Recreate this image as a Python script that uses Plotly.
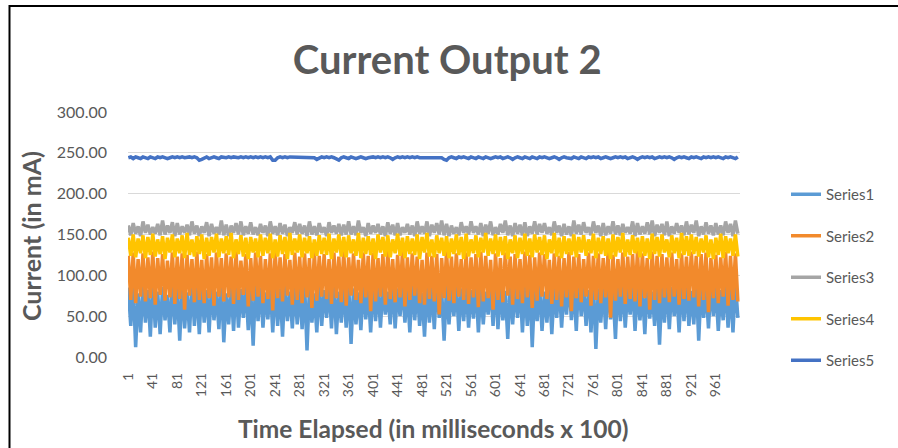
import plotly.graph_objects as go

# sample index (every 4th step of the 1..1000 category axis)
sample_index = list(range(1, 1001, 4))

series1 = [
    85, 38, 90, 12, 78, 30, 88, 42, 82, 25,
    92, 36, 80, 28, 86, 45, 76, 30, 90, 40,
    84, 20, 88, 35, 79, 30, 91, 38, 85, 28,
    90, 42, 82, 30, 87, 45, 80, 34, 93, 18,
    78, 40, 86, 32, 90, 36, 83, 48, 88, 33,
    81, 14, 92, 44, 85, 36, 79, 46, 87, 30,
    90, 38, 84, 25, 88, 44, 80, 35, 86, 40,
    83, 34, 91, 8, 85, 42, 78, 30, 89, 38,
    82, 48, 87, 35, 92, 28, 80, 42, 86, 36,
    90, 16, 84, 40, 79, 33, 88, 46, 83, 30,
    91, 44, 85, 36, 87, 52, 80, 40, 93, 35,
    84, 50, 89, 42, 82, 30, 90, 45, 86, 38,
    79, 25, 88, 42, 85, 34, 92, 48, 81, 20,
    87, 40, 83, 50, 90, 32, 84, 44, 88, 36,
    82, 47, 91, 30, 86, 40, 80, 52, 89, 38,
    93, 34, 85, 45, 81, 22, 88, 40, 84, 48,
    90, 30, 86, 38, 92, 12, 83, 44, 87, 32,
    80, 42, 89, 28, 85, 48, 91, 36, 84, 52,
    95, 45, 88, 32, 100, 50, 86, 38, 82, 30,
    90, 10, 84, 42, 88, 34, 92, 46, 81, 22,
    96, 44, 87, 36, 83, 52, 90, 32, 86, 45,
    84, 28, 91, 47, 80, 38, 88, 15, 85, 42,
    92, 34, 86, 50, 83, 30, 90, 44, 87, 38,
    81, 40, 94, 20, 88, 48, 84, 35, 90, 50,
    86, 32, 82, 45, 89, 36, 85, 30, 91, 48,
]

series2 = [
    124, 70, 128, 66, 120, 74, 127, 68, 122, 72,
    129, 64, 121, 76, 126, 69, 118, 73, 128, 65,
    123, 71, 127, 58, 125, 75, 120, 67, 129, 70,
    119, 66, 126, 72, 122, 63, 128, 74, 121, 68,
    127, 73, 123, 65, 130, 70, 118, 76, 126, 62,
    121, 69, 128, 74, 124, 66, 120, 71, 127, 57,
    129, 72, 122, 68, 126, 75, 119, 64, 128, 70,
    123, 66, 127, 73, 121, 60, 129, 69, 124, 74,
    126, 71, 120, 65, 128, 72, 123, 67, 130, 63,
    122, 75, 127, 70, 119, 66, 128, 73, 124, 56,
    128, 68, 121, 74, 126, 64, 130, 71, 120, 67,
    125, 73, 129, 62, 122, 70, 127, 75, 123, 66,
    119, 64, 128, 71, 124, 68, 126, 52, 121, 72,
    130, 69, 123, 66, 127, 74, 120, 70, 128, 65,
    122, 73, 126, 61, 129, 68, 124, 72, 119, 58,
    127, 70, 121, 67, 128, 75, 123, 64, 126, 71,
    120, 66, 129, 73, 125, 60, 122, 69, 128, 74,
    126, 71, 119, 65, 127, 70, 124, 62, 121, 73,
    129, 56, 123, 72, 126, 67, 120, 74, 128, 63,
    124, 70, 127, 66, 121, 73, 129, 48, 125, 69,
    120, 74, 128, 65, 123, 71, 126, 68, 130, 62,
    127, 72, 121, 58, 129, 70, 124, 66, 126, 73,
    122, 67, 128, 74, 120, 64, 127, 71, 123, 69,
    129, 73, 124, 62, 126, 70, 128, 55, 121, 72,
    125, 66, 122, 74, 129, 63, 124, 70, 127, 68,
]

series3 = [
    161, 149, 164, 151, 160, 148, 166, 152, 162, 150,
    159, 151, 163, 149, 167, 150, 161, 152, 165, 148,
    164, 150, 160, 152, 162, 149, 166, 151, 161, 148,
    160, 152, 165, 148, 163, 151, 159, 150, 167, 149,
    162, 148, 161, 152, 164, 150, 166, 149, 160, 151,
    165, 150, 159, 149, 163, 152, 161, 148, 166, 151,
    160, 149, 164, 151, 162, 148, 159, 152, 165, 150,
    163, 151, 161, 148, 166, 150, 160, 149, 164, 152,
    159, 148, 165, 152, 161, 151, 163, 149, 162, 150,
    166, 150, 160, 149, 167, 152, 159, 148, 164, 151,
    161, 152, 163, 150, 160, 148, 165, 151, 162, 149,
    164, 149, 159, 152, 163, 150, 161, 148, 166, 151,
    160, 151, 166, 148, 162, 152, 164, 150, 167, 149,
    163, 148, 161, 151, 159, 149, 165, 152, 160, 150,
    166, 152, 160, 150, 164, 148, 162, 151, 166, 149,
    159, 150, 163, 152, 167, 149, 161, 148, 164, 151,
    162, 149, 165, 148, 160, 151, 166, 150, 163, 152,
    164, 151, 159, 149, 166, 152, 161, 148, 163, 150,
    160, 148, 167, 151, 162, 150, 165, 152, 159, 149,
    166, 152, 161, 148, 164, 149, 160, 151, 166, 150,
    161, 149, 163, 152, 159, 151, 166, 148, 164, 150,
    160, 151, 165, 150, 167, 148, 162, 152, 163, 149,
    166, 148, 160, 151, 164, 152, 161, 149, 166, 150,
    162, 152, 167, 148, 160, 150, 165, 151, 161, 149,
    164, 150, 161, 149, 166, 152, 163, 148, 167, 151,
]

series4 = [
    146, 124, 150, 122, 145, 127, 149, 121, 147, 125,
    151, 123, 144, 126, 148, 120, 146, 128, 150, 122,
    145, 127, 149, 121, 152, 125, 144, 123, 148, 126,
    150, 120, 146, 124, 147, 128, 151, 122, 145, 127,
    148, 125, 152, 121, 144, 126, 149, 123, 146, 120,
    147, 128, 145, 122, 150, 124, 146, 127, 151, 121,
    144, 123, 149, 126, 147, 120, 152, 125, 145, 128,
    150, 122, 146, 127, 148, 121, 144, 124, 149, 126,
    146, 125, 151, 120, 145, 128, 150, 123, 147, 122,
    149, 127, 144, 124, 152, 121, 146, 126, 148, 125,
    145, 120, 150, 128, 147, 123, 149, 122, 144, 127,
    151, 124, 146, 121, 148, 126, 145, 125, 150, 120,
    147, 128, 152, 123, 144, 122, 149, 127, 146, 124,
    148, 121, 145, 126, 150, 125, 147, 120, 151, 123,
    144, 127, 149, 122, 146, 128, 152, 124, 145, 126,
    150, 123, 147, 125, 148, 120, 144, 127, 149, 121,
    146, 126, 151, 124, 145, 122, 150, 128, 147, 125,
    149, 120, 144, 127, 152, 123, 146, 121, 148, 126,
    145, 125, 150, 122, 147, 128, 149, 124, 144, 127,
    151, 121, 146, 126, 148, 124, 145, 120, 150, 123,
    147, 128, 152, 123, 144, 125, 149, 127, 146, 122,
    148, 124, 145, 120, 151, 126, 147, 123, 150, 128,
    144, 122, 149, 127, 146, 121, 152, 125, 148, 124,
    150, 126, 147, 123, 145, 128, 149, 122, 144, 120,
    146, 125, 151, 121, 148, 127, 145, 124, 150, 123,
]

series5 = [
    244, 245, 243, 245, 244, 243, 245, 244, 243, 245,
    244, 243, 245, 244, 245, 244, 243, 244, 245, 244,
    245, 244, 245, 244, 245, 245, 244, 245, 244, 241,
    242, 244, 245, 243, 244, 245, 244, 243, 245, 244,
    244, 245, 244, 245, 244, 244, 245, 244, 245, 244,
    245, 244, 245, 244, 245, 244, 245, 244, 245, 241,
    241, 244, 245, 244, 245, 244, 245, 245, 244, 245,
    244, 245, 244, 245, 244, 245, 244, 242, 244, 245,
    244, 245, 244, 245, 244, 242, 241, 244, 245, 244,
    243, 245, 244, 243, 244, 245, 244, 243, 244, 245,
    245, 244, 245, 244, 245, 244, 245, 244, 242, 244,
    245, 244, 245, 244, 245, 244, 245, 244, 245, 244,
    244, 245, 244, 245, 244, 245, 244, 245, 244, 242,
    241, 244, 245, 244, 243, 245, 244, 245, 244, 243,
    245, 244, 243, 245, 244, 243, 245, 244, 243, 244,
    245, 244, 245, 243, 244, 245, 244, 242, 244, 245,
    244, 243, 245, 244, 243, 245, 244, 243, 245, 244,
    245, 244, 243, 244, 245, 244, 242, 244, 245, 244,
    244, 243, 245, 244, 243, 245, 244, 243, 245, 244,
    245, 244, 245, 243, 244, 245, 244, 243, 244, 245,
    244, 245, 244, 245, 243, 244, 245, 244, 242, 244,
    245, 244, 245, 244, 245, 243, 244, 245, 244, 245,
    244, 245, 244, 242, 244, 245, 244, 245, 244, 243,
    245, 244, 245, 244, 243, 245, 244, 245, 244, 245,
    244, 245, 244, 243, 245, 244, 245, 244, 243, 245,
]

series_names = ["Series1", "Series2", "Series3", "Series4", "Series5"]
series_values = [series1, series2, series3, series4, series5]
colors = ["#5B9BD5", "#F28A2C", "#A5A5A5", "#FFC400", "#4472C4"]

tick_vals = list(range(1, 1000, 40))
tick_text = [str(v) for v in tick_vals]
y_ticks = [0, 50, 100, 150, 200, 250, 300]

FONT = "Lato"
GREY = "#595959"

fig = go.Figure()
for name, vals, col in zip(series_names, series_values, colors):
    fig.add_trace(go.Scatter(
        x=sample_index, y=vals, name=name, mode="lines",
        line=dict(color=col, width=3.5), legendgroup=name,
    ))

L, R, T, B = 128, 158, 112, 91
W, H = 898, 448
pw, ph = W - L - R, H - T - B

def px(x):
    return (x - L) / pw

def py(y):
    return (H - B - y) / ph

fig.update_layout(
    width=W, height=H,
    margin=dict(l=L, r=R, t=T, b=B),
    paper_bgcolor="white", plot_bgcolor="white",
    font=dict(family=FONT, color=GREY),
    title=dict(text="<b>Current Output 2</b>", x=0.498, xanchor="center",
               y=1 - 60 / H, yanchor="middle", yref="container",
               font=dict(family=FONT, size=40, color=GREY)),
    showlegend=True,
    legend=dict(x=px(786), xanchor="left", y=py(178), yanchor="top",
                font=dict(family=FONT, size=15, color=GREY),
                tracegroupgap=19, bgcolor="rgba(0,0,0,0)"),
    xaxis=dict(range=[0.5, 1000.5], tickmode="array", tickvals=tick_vals,
               ticktext=tick_text, tickangle=-90, showgrid=False,
               zeroline=False, showline=False, ticks="",
               tickfont=dict(family=FONT, size=14, color=GREY),
               ticklabelstandoff=12),
    yaxis=dict(range=[0, 300], tickmode="array", tickvals=y_ticks,
               ticktext=[f"{v:.2f}" for v in y_ticks], showgrid=True,
               gridcolor="#D9D9D9", gridwidth=1, zeroline=False,
               showline=False, ticks="",
               tickfont=dict(family=FONT, size=16, color=GREY),
               ticklabelstandoff=20),
    annotations=[
        dict(text="<b>Time Elapsed (in milliseconds x 100)</b>", xref="paper",
             yref="paper", x=px(432.5), y=py(428), xanchor="center",
             yanchor="middle", showarrow=False,
             font=dict(family=FONT, size=24.5, color=GREY)),
        dict(text="<b>Current (in mA)</b>", xref="paper", yref="paper",
             x=px(31), y=py(236), xanchor="center", yanchor="middle",
             textangle=-90, showarrow=False,
             font=dict(family=FONT, size=25, color=GREY)),
    ],
    shapes=[
        dict(type="rect", xref="paper", yref="paper",
             x0=px(9.5), x1=px(910), y0=py(460), y1=py(6),
             line=dict(color="black", width=2), fillcolor="rgba(0,0,0,0)"),
    ],
)

fig.write_html("out.html")
